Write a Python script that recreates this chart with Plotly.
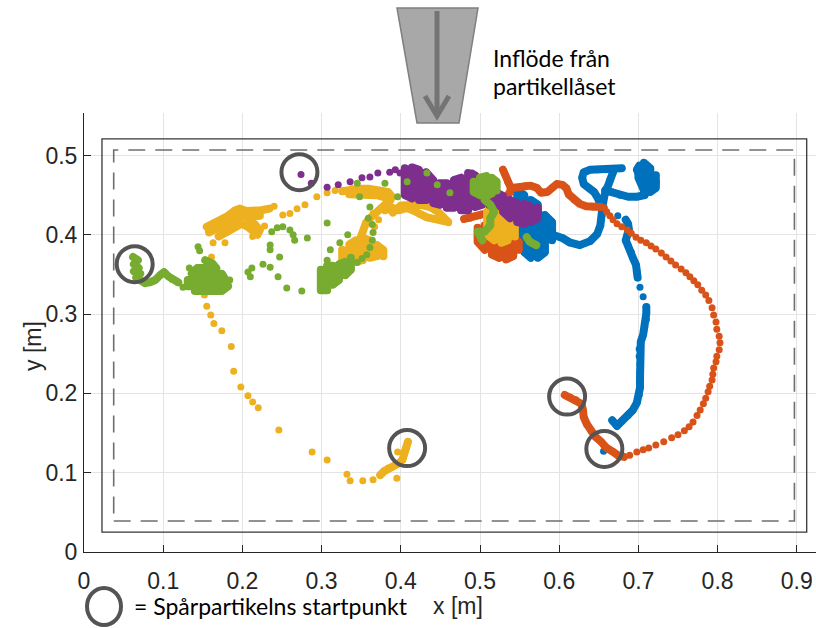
import plotly.graph_objects as go

# ---------------------------------------------------------------------------
# Tracer-particle trajectories (x, y in metres), one colour per particle.
# "trails" are densely sampled stretches, "dots" are sparsely sampled points.
# ---------------------------------------------------------------------------

blue_trails = [
    [(0.667, 0.166), (0.673, 0.159), (0.679, 0.165), (0.687, 0.172), (0.693, 0.179), (0.698, 0.188),
     (0.701, 0.198), (0.702, 0.207), (0.702, 0.217), (0.702, 0.227), (0.702, 0.237), (0.701, 0.247),
     (0.701, 0.256), (0.703, 0.265), (0.706, 0.274), (0.708, 0.284), (0.710, 0.293), (0.710, 0.301),
     (0.710, 0.309)],
    [(0.699, 0.346), (0.698, 0.354), (0.697, 0.362), (0.693, 0.371), (0.691, 0.378), (0.687, 0.386),
     (0.684, 0.393), (0.686, 0.401), (0.688, 0.407), (0.687, 0.414), (0.684, 0.419)],
    [(0.655, 0.429), (0.653, 0.438), (0.649, 0.446), (0.644, 0.454), (0.638, 0.459), (0.631, 0.464),
     (0.629, 0.472), (0.631, 0.479), (0.639, 0.482), (0.649, 0.482), (0.659, 0.482), (0.669, 0.483),
     (0.679, 0.484)],
    [(0.668, 0.479), (0.664, 0.469), (0.660, 0.459), (0.657, 0.449), (0.655, 0.438), (0.654, 0.425),
     (0.652, 0.412), (0.648, 0.401), (0.639, 0.392), (0.626, 0.387), (0.614, 0.390), (0.604, 0.396),
     (0.595, 0.398), (0.586, 0.402), (0.576, 0.409), (0.582, 0.416), (0.576, 0.425)],
    [(0.658, 0.456), (0.667, 0.454), (0.677, 0.450), (0.687, 0.448), (0.698, 0.448), (0.708, 0.450),
     (0.711, 0.458), (0.708, 0.467), (0.702, 0.474), (0.698, 0.482), (0.701, 0.487), (0.706, 0.482),
     (0.711, 0.475), (0.717, 0.472), (0.722, 0.467), (0.721, 0.460), (0.715, 0.458)],
    [(0.700, 0.484), (0.700, 0.472), (0.707, 0.456), (0.707, 0.491), (0.715, 0.484), (0.715, 0.454),
     (0.722, 0.459), (0.722, 0.475)],
    [(0.538, 0.429), (0.538, 0.396), (0.547, 0.387), (0.547, 0.456), (0.556, 0.450), (0.556, 0.378),
     (0.564, 0.371), (0.564, 0.444), (0.573, 0.438), (0.573, 0.371), (0.582, 0.378), (0.582, 0.425),
     (0.591, 0.416), (0.591, 0.393)],
]
blue_dots = [(0.656, 0.127), (0.706, 0.322), (0.702, 0.334), (0.674, 0.424), (0.521, 0.419)]

orange_trails = [
    [(0.607, 0.198), (0.614, 0.195), (0.621, 0.192), (0.628, 0.187), (0.630, 0.179), (0.631, 0.170),
     (0.635, 0.161), (0.640, 0.153), (0.646, 0.145), (0.653, 0.139), (0.659, 0.132), (0.667, 0.127),
     (0.674, 0.122), (0.682, 0.120)],
    [(0.652, 0.435), (0.643, 0.435), (0.634, 0.436), (0.626, 0.439), (0.619, 0.444), (0.612, 0.451),
     (0.609, 0.459), (0.604, 0.463), (0.597, 0.464), (0.591, 0.459), (0.585, 0.454), (0.577, 0.453),
     (0.572, 0.459), (0.564, 0.462), (0.557, 0.462), (0.548, 0.460), (0.539, 0.459), (0.535, 0.467),
     (0.532, 0.475), (0.529, 0.482)],
    [(0.539, 0.459), (0.538, 0.454), (0.532, 0.446), (0.525, 0.438), (0.516, 0.431), (0.508, 0.427),
     (0.497, 0.424), (0.487, 0.421), (0.480, 0.420)],
    [(0.497, 0.409), (0.497, 0.391), (0.506, 0.381), (0.506, 0.412), (0.515, 0.409), (0.515, 0.375),
     (0.524, 0.371), (0.524, 0.404), (0.533, 0.400), (0.533, 0.369), (0.542, 0.373), (0.542, 0.396),
     (0.549, 0.391), (0.549, 0.381)],
]
orange_dots = [
    (0.689, 0.122), (0.698, 0.126), (0.706, 0.129), (0.713, 0.131), (0.722, 0.135), (0.732, 0.139),
    (0.742, 0.144), (0.750, 0.148), (0.758, 0.153), (0.764, 0.158), (0.769, 0.164), (0.774, 0.172),
    (0.778, 0.179), (0.782, 0.187), (0.785, 0.194), (0.788, 0.202), (0.790, 0.209), (0.793, 0.217),
    (0.794, 0.224), (0.795, 0.232), (0.798, 0.240), (0.799, 0.247), (0.802, 0.255), (0.803, 0.264),
    (0.802, 0.272), (0.799, 0.281), (0.798, 0.290), (0.795, 0.299), (0.793, 0.308), (0.789, 0.317),
    (0.785, 0.324), (0.780, 0.330), (0.775, 0.337), (0.770, 0.342), (0.765, 0.347), (0.760, 0.352),
    (0.754, 0.357), (0.747, 0.362), (0.741, 0.367), (0.735, 0.372), (0.729, 0.377), (0.722, 0.382),
    (0.716, 0.386), (0.710, 0.390), (0.703, 0.393), (0.697, 0.397), (0.691, 0.402), (0.686, 0.406),
    (0.679, 0.410), (0.673, 0.414), (0.668, 0.419), (0.664, 0.424), (0.660, 0.429), (0.657, 0.434),
]

yellow_trails = [
    [(0.409, 0.139), (0.407, 0.131), (0.403, 0.125), (0.402, 0.116), (0.396, 0.111), (0.390, 0.108),
     (0.384, 0.106), (0.379, 0.102), (0.374, 0.097)],
    [(0.155, 0.410), (0.164, 0.414), (0.173, 0.419), (0.182, 0.424), (0.191, 0.431), (0.197, 0.433),
     (0.205, 0.430), (0.214, 0.430), (0.224, 0.431), (0.234, 0.433)],
    [(0.158, 0.403), (0.167, 0.407), (0.176, 0.412), (0.186, 0.417), (0.194, 0.422), (0.202, 0.424),
     (0.212, 0.423), (0.222, 0.424)],
    [(0.170, 0.398), (0.180, 0.403), (0.190, 0.410), (0.199, 0.414), (0.207, 0.410), (0.214, 0.404),
     (0.219, 0.400), (0.222, 0.406), (0.216, 0.413), (0.208, 0.418)],
    [(0.326, 0.455), (0.338, 0.458), (0.348, 0.458), (0.359, 0.458), (0.367, 0.457), (0.376, 0.456),
     (0.384, 0.454), (0.389, 0.448), (0.386, 0.442), (0.380, 0.438), (0.374, 0.433), (0.365, 0.427),
     (0.361, 0.421), (0.356, 0.415), (0.352, 0.404), (0.348, 0.393)],
    [(0.335, 0.451), (0.348, 0.451), (0.359, 0.451), (0.370, 0.450), (0.380, 0.447)],
    [(0.326, 0.381), (0.326, 0.368), (0.335, 0.366), (0.335, 0.388), (0.343, 0.393), (0.343, 0.366),
     (0.352, 0.368), (0.352, 0.396), (0.361, 0.393), (0.361, 0.371), (0.370, 0.373), (0.370, 0.387),
     (0.378, 0.381), (0.378, 0.373)],
    [(0.380, 0.431), (0.389, 0.434), (0.398, 0.431), (0.407, 0.434), (0.415, 0.431), (0.424, 0.426),
     (0.433, 0.422), (0.442, 0.420), (0.451, 0.419), (0.460, 0.416), (0.447, 0.429), (0.437, 0.435),
     (0.424, 0.438), (0.412, 0.438), (0.400, 0.437), (0.390, 0.428)],
    [(0.509, 0.429), (0.509, 0.400), (0.518, 0.393), (0.518, 0.434), (0.527, 0.431), (0.527, 0.390),
     (0.535, 0.393), (0.535, 0.425), (0.544, 0.416), (0.544, 0.398)],
]
yellow_dots = [
    (0.396, 0.126), (0.395, 0.093), (0.365, 0.091), (0.352, 0.090), (0.336, 0.090), (0.332, 0.098),
    (0.307, 0.116), (0.288, 0.126), (0.246, 0.154), (0.220, 0.182), (0.213, 0.189), (0.207, 0.197),
    (0.198, 0.208), (0.189, 0.228), (0.186, 0.259), (0.174, 0.279), (0.164, 0.288), (0.160, 0.299),
    (0.155, 0.310), (0.152, 0.324), (0.161, 0.372), (0.163, 0.390), (0.178, 0.390), (0.251, 0.425),
    (0.260, 0.427), (0.269, 0.433), (0.279, 0.438), (0.294, 0.448), (0.307, 0.453), (0.317, 0.456),
    (0.367, 0.410), (0.372, 0.419), (0.240, 0.436), (0.228, 0.411), (0.213, 0.398),
]

purple_trails = [
    [(0.405, 0.484), (0.405, 0.450), (0.414, 0.446), (0.414, 0.485), (0.423, 0.482), (0.423, 0.444),
     (0.432, 0.444), (0.432, 0.479), (0.441, 0.469), (0.441, 0.440), (0.449, 0.438), (0.449, 0.465),
     (0.458, 0.465), (0.458, 0.434), (0.467, 0.434), (0.467, 0.469), (0.476, 0.472), (0.476, 0.431),
     (0.485, 0.431), (0.485, 0.478), (0.494, 0.475), (0.494, 0.435), (0.503, 0.438), (0.503, 0.467),
     (0.511, 0.459), (0.511, 0.438), (0.520, 0.435), (0.520, 0.454), (0.529, 0.449), (0.529, 0.429),
     (0.538, 0.421), (0.538, 0.444), (0.547, 0.439), (0.547, 0.416), (0.556, 0.414), (0.556, 0.439),
     (0.564, 0.436), (0.564, 0.416), (0.573, 0.421), (0.573, 0.434)],
]
purple_dots = [
    (0.274, 0.476), (0.287, 0.465), (0.307, 0.460), (0.321, 0.463), (0.336, 0.467), (0.351, 0.472),
    (0.361, 0.473), (0.371, 0.478), (0.386, 0.479), (0.393, 0.482), (0.399, 0.478), (0.490, 0.478),
]

green_trails = [
    [(0.062, 0.372), (0.068, 0.368), (0.063, 0.363), (0.069, 0.358), (0.063, 0.354), (0.071, 0.351),
     (0.066, 0.346), (0.072, 0.342), (0.077, 0.339), (0.083, 0.340), (0.090, 0.343), (0.096, 0.349),
     (0.101, 0.353), (0.106, 0.348), (0.111, 0.344), (0.119, 0.340)],
    [(0.153, 0.368), (0.162, 0.364), (0.167, 0.358), (0.143, 0.358), (0.136, 0.351), (0.174, 0.351),
     (0.179, 0.343), (0.131, 0.343), (0.131, 0.335), (0.182, 0.335), (0.174, 0.329), (0.140, 0.329)],
    [(0.299, 0.356), (0.299, 0.330), (0.307, 0.330), (0.307, 0.361), (0.314, 0.361), (0.314, 0.337),
     (0.322, 0.343), (0.322, 0.363), (0.330, 0.366), (0.330, 0.349), (0.337, 0.356), (0.337, 0.371)],
    [(0.492, 0.467), (0.492, 0.454), (0.500, 0.450), (0.500, 0.472), (0.508, 0.474), (0.508, 0.449),
     (0.515, 0.452), (0.515, 0.472), (0.521, 0.467), (0.521, 0.456)],
    [(0.506, 0.444), (0.513, 0.438), (0.518, 0.429), (0.513, 0.421), (0.513, 0.412), (0.506, 0.404),
     (0.497, 0.404), (0.503, 0.393)],
    [(0.559, 0.397), (0.563, 0.391), (0.571, 0.387)],
]
green_dots = [
    (0.125, 0.334), (0.133, 0.358), (0.144, 0.385), (0.146, 0.380), (0.184, 0.343), (0.212, 0.358),
    (0.207, 0.353), (0.210, 0.347), (0.226, 0.363), (0.235, 0.359), (0.245, 0.347), (0.256, 0.333),
    (0.275, 0.329), (0.247, 0.372), (0.235, 0.387), (0.235, 0.381), (0.237, 0.404), (0.244, 0.409),
    (0.251, 0.410), (0.260, 0.406), (0.264, 0.400), (0.266, 0.393), (0.282, 0.396), (0.307, 0.415),
    (0.307, 0.368), (0.311, 0.381), (0.323, 0.390), (0.333, 0.400), (0.345, 0.365), (0.351, 0.370),
    (0.357, 0.375), (0.361, 0.384), (0.364, 0.393), (0.365, 0.403), (0.364, 0.413), (0.359, 0.421),
    (0.361, 0.435), (0.348, 0.448), (0.345, 0.465), (0.380, 0.465), (0.396, 0.448), (0.408, 0.467),
    (0.433, 0.478), (0.446, 0.463), (0.462, 0.453),
]

# Start point of each tracer particle (circled in the plot)
start_x = [0.064, 0.272, 0.408, 0.610, 0.657]
start_y = [0.363, 0.479, 0.131, 0.196, 0.130]

# Outline of the measurement tank (solid) and the tracked region (dashed)
tank_x = [0.0227, 0.9125]
tank_y = [0.025, 0.521]
region_x = [0.0375, 0.897]
region_y = [0.039, 0.507]

x_ticks = [0, 0.1, 0.2, 0.3, 0.4, 0.5, 0.6, 0.7, 0.8, 0.9]
x_labels = ["0", "0.1", "0.2", "0.3", "0.4", "0.5", "0.6", "0.7", "0.8", "0.9"]
y_ticks = [0, 0.1, 0.2, 0.3, 0.4, 0.5]
y_labels = ["0", "0.1", "0.2", "0.3", "0.4", "0.5"]

# MATLAB default colour order
series = [
    ("#0072BD", blue_trails, blue_dots),
    ("#D95319", orange_trails, orange_dots),
    ("#EDB120", yellow_trails, yellow_dots),
    ("#7E2F8E", purple_trails, purple_dots),
    ("#77AC30", green_trails, green_dots),
]

# ---------------------------------------------------------------------------
W, H = 816, 628
ML, MR, MT, MB = 84, 0, 113, 76
PW, PH = W - ML - MR, H - MT - MB
DOT = 7
TRAIL = 8


def fx(px):
    """page pixel column -> paper x"""
    return (px - ML) / PW


def fy(py):
    """page pixel row -> paper y"""
    return (H - MB - py) / PH


def unzip(segments):
    xs, ys = [], []
    for seg in segments:
        for x, y in seg:
            xs.append(x)
            ys.append(y)
        xs.append(None)
        ys.append(None)
    return xs, ys


fig = go.Figure()
for color, trails, dots in series:
    tx, ty = unzip(trails)
    fig.add_trace(go.Scatter(
        x=tx, y=ty, mode="lines", connectgaps=False, hoverinfo="skip",
        line=dict(color=color, width=TRAIL),
    ))
    dx, dy = unzip([dots])
    fig.add_trace(go.Scatter(
        x=[v for v in tx if v is not None] + dx,
        y=[v for v in ty if v is not None] + dy,
        mode="markers",
        marker=dict(color=color, size=DOT, line=dict(width=0)),
    ))

shapes = [
    dict(type="rect", xref="x", yref="y", x0=tank_x[0], x1=tank_x[1], y0=tank_y[0], y1=tank_y[1],
         line=dict(color="#363636", width=1.3), layer="between"),
    dict(type="rect", xref="x", yref="y", x0=region_x[0], x1=region_x[1], y0=region_y[0], y1=region_y[1],
         line=dict(color="#6f6f6f", width=1.6, dash="17px,10px"), layer="between"),
]
for sx, sy in zip(start_x, start_y):
    shapes.append(dict(
        type="circle", xref="x", yref="y", xsizemode="pixel", ysizemode="pixel",
        xanchor=sx, yanchor=sy, x0=-18, x1=18, y0=-18, y1=18,
        line=dict(color="#545454", width=4), layer="above",
    ))

# inflow funnel with arrow above the tank
shapes.append(dict(
    type="path", xref="paper", yref="paper", layer="above",
    path=f"M {fx(397)},{fy(8)} L {fx(478)},{fy(8)} L {fx(459)},{fy(123)} L {fx(417)},{fy(123)} Z",
    fillcolor="#a8a8a8", line=dict(color="#7f7f7f", width=1.5),
))
shapes.append(dict(
    type="line", xref="paper", yref="paper", layer="above",
    x0=fx(437), x1=fx(437), y0=fy(11), y1=fy(114),
    line=dict(color="#747474", width=5),
))
shapes.append(dict(
    type="path", xref="paper", yref="paper", layer="above",
    path=f"M {fx(425)},{fy(96)} L {fx(437)},{fy(116)} L {fx(449)},{fy(96)}",
    line=dict(color="#747474", width=5),
))
# legend marker for the start-point circles
shapes.append(dict(
    type="circle", xref="paper", yref="paper", layer="above",
    x0=fx(87), x1=fx(121), y0=fy(625), y1=fy(588),
    line=dict(color="#545454", width=4),
))

label_font = dict(family="Lato", size=23, color="#000000")
axis_font = dict(family="Arial", size=23, color="#262626")

annotations = [
    dict(text="Inflöde från", xref="paper", yref="paper", x=fx(491), y=fy(58),
         xanchor="left", yanchor="middle", showarrow=False, font=label_font),
    dict(text="partikellåset", xref="paper", yref="paper", x=fx(491), y=fy(86),
         xanchor="left", yanchor="middle", showarrow=False, font=label_font),
    dict(text="= Spårpartikelns startpunkt", xref="paper", yref="paper", x=fx(132), y=fy(606),
         xanchor="left", yanchor="middle", showarrow=False, font=label_font),
    dict(text="x [m]", xref="paper", yref="paper", x=fx(431), y=fy(606),
         xanchor="left", yanchor="middle", showarrow=False, font=axis_font),
    dict(text="y [m]", xref="paper", yref="paper", x=fx(33), y=fy(346), textangle=-90,
         xanchor="center", yanchor="middle", showarrow=False, font=axis_font),
]

fig.update_layout(
    width=W, height=H,
    margin=dict(l=ML, r=MR, t=MT, b=MB, pad=0),
    paper_bgcolor="white", plot_bgcolor="white",
    showlegend=False,
    shapes=shapes,
    annotations=annotations,
    xaxis=dict(
        range=[0, PW / 792], tickmode="array", tickvals=x_ticks, ticktext=x_labels,
        showgrid=True, gridcolor="#e4e4e4", gridwidth=1, zeroline=False,
        showline=True, linecolor="#262626", linewidth=1,
        ticks="inside", ticklen=7, tickcolor="#262626", ticklabelstandoff=8,
        tickfont=axis_font, fixedrange=True,
    ),
    yaxis=dict(
        range=[0, PH / 793], tickmode="array", tickvals=y_ticks, ticktext=y_labels,
        showgrid=True, gridcolor="#e4e4e4", gridwidth=1, zeroline=False,
        showline=True, linecolor="#262626", linewidth=1,
        ticks="inside", ticklen=7, tickcolor="#262626", ticklabelstandoff=1,
        tickfont=axis_font, fixedrange=True,
    ),
)

# round joins so the densely sampled trails render as soft chains of dots
round_joins = (
    "document.querySelectorAll('.scatterlayer .js-line').forEach(function (p) {"
    "p.style.strokeLinejoin = 'round'; p.style.strokeLinecap = 'round';});"
)

fig.write_html("out.html", post_script=round_joins)
